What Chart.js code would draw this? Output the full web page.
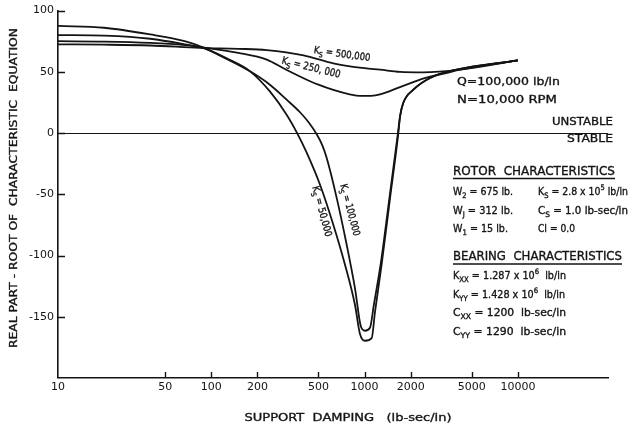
<!DOCTYPE html>
<html>
<head>
<meta charset="utf-8">
<script src="https://cdn.jsdelivr.net/npm/chart.js@4"></script>
<style>
  html, body { margin: 0; padding: 0; background: #fff; }
  canvas { display: block; }
</style>
</head>
<body>
<canvas id="c" width="630" height="429"></canvas>
<script>
// Support damping (lb-sec/in) and real part of the root for each support stiffness Ks
const damping500k = [10, 20, 40, 84, 150, 230, 400, 625, 1000, 1260, 1700, 2400, 4200, 10000];
const real500k    = [72.5, 72.2, 71.5, 69.6, 68.8, 67.8, 63.5, 57, 53, 51.8, 50, 49.6, 51.8, 59.4];

const damping250k = [10, 20, 40, 67, 88, 150, 230, 300, 400, 500, 625, 800, 933, 1100, 1260, 1700, 2400, 3400, 4200, 10000];
const real250k    = [75, 74.7, 73.6, 71.8, 70, 65.5, 60, 52.5, 44.8, 39.5, 35.2, 31.6, 30.3, 30.4, 31.5, 37.5, 44.5, 49, 51.8, 59.4];

const damping100k = [10, 20, 40, 67, 88, 126, 179, 241, 310, 379, 430, 487, 530, 566, 658, 764, 865, 946, 1006, 1084, 1150, 1280, 1455, 1650, 1703, 1786, 2080, 2673, 3980, 10000];
const real100k    = [80, 79.5, 77, 72.5, 69.5, 60.5, 50.4, 39.5, 27.3, 17, 9, -1, -10, -20.4, -53.1, -91.2, -126.6, -158, -161.4, -159, -140, -105, -52, 0, 13.6, 24.5, 35.4, 45, 51.8, 59.4];

const damping50k  = [10, 20, 40, 67, 88, 126, 179, 241, 310, 363, 419, 512, 625, 745, 865, 933, 1006, 1112, 1170, 1291, 1466, 1660, 1703, 1786, 2080, 2673, 3980, 10000];
const real50k     = [87.5, 86, 80.5, 75, 70, 61, 50.4, 34, 15, 0, -16, -42.2, -74.8, -107.5, -140.2, -164, -169.6, -167.5, -145.7, -107.5, -53, 0, 13.6, 24.5, 35.4, 45, 51.8, 59.4];

// Axis ticks
const xTicks = [10, 50, 100, 200, 500, 1000, 2000, 5000, 10000];
const yTicks = [-150, -100, -50, 0, 50, 100];

const INK = '#141414';
const FONT = '"DejaVu Sans", sans-serif';

function pts(xs, ys) { return xs.map((x, i) => ({ x: x, y: ys[i] })); }

function series(label, xs, ys) {
  return {
    label: label,
    data: pts(xs, ys),
    borderColor: INK,
    borderWidth: 1.8,
    pointRadius: 0,
    fill: false,
    cubicInterpolationMode: 'monotone'
  };
}

// Text with optional subscript (_) / superscript (^) segments, stretched to a given width
function drawRich(ctx, segs, x, y, o) {
  const size = o.size || 11;
  const items = segs.map(s => {
    let kind = 0, t = s;
    if (s[0] === '_') { kind = 1; t = s.slice(1); }
    else if (s[0] === '^') { kind = 2; t = s.slice(1); }
    const fs = kind ? size * 0.72 : size;
    ctx.font = fs + 'px ' + FONT;
    return { t: t, kind: kind, fs: fs, w: ctx.measureText(t).width };
  });
  const W = items.reduce((a, b) => a + b.w, 0);
  const sx = o.width ? o.width / W : 1;
  ctx.save();
  ctx.translate(x, y);
  if (o.rot) ctx.rotate(o.rot * Math.PI / 180);
  ctx.scale(sx, 1);
  let cx = o.align === 'right' ? -W : (o.align === 'center' ? -W / 2 : 0);
  ctx.textBaseline = 'middle';
  ctx.textAlign = 'left';
  ctx.fillStyle = INK;
  ctx.strokeStyle = INK;
  ctx.lineWidth = 0.35;
  for (const it of items) {
    ctx.font = it.fs + 'px ' + FONT;
    const dy = it.kind === 1 ? size * 0.38 : (it.kind === 2 ? -size * 0.42 : 0);
    ctx.fillText(it.t, cx, dy);
    ctx.strokeText(it.t, cx, dy);
    cx += it.w;
  }
  ctx.restore();
}

function hline(ctx, x1, x2, y, w) {
  ctx.save();
  ctx.strokeStyle = INK;
  ctx.lineWidth = w || 1.3;
  ctx.beginPath();
  ctx.moveTo(x1, y);
  ctx.lineTo(x2, y);
  ctx.stroke();
  ctx.restore();
}

const decorations = {
  id: 'decorations',
  afterDraw(chart) {
    const ctx = chart.ctx;
    const xs = chart.scales.x, ys = chart.scales.y;
    const area = chart.chartArea;

    // inward tick marks
    ctx.save();
    ctx.strokeStyle = INK;
    ctx.lineWidth = 1.4;
    ctx.beginPath();
    xTicks.forEach(v => {
      if (v === 10) return;
      const px = Math.round(xs.getPixelForValue(v)) + 0.5;
      ctx.moveTo(px, area.bottom);
      ctx.lineTo(px, area.bottom - 6);
    });
    yTicks.forEach(v => {
      const py = Math.round(ys.getPixelForValue(v)) + 0.5;
      ctx.moveTo(area.left, py);
      ctx.lineTo(area.left + 7, py);
    });
    ctx.stroke();
    ctx.restore();

    // axis titles
    drawRich(ctx, ['REAL PART - ROOT OF  CHARACTERISTIC  EQUATION'], 14, 188, { align: 'center', rot: -90, width: 320, size: 11 });
    drawRich(ctx, ['SUPPORT  DAMPING   (lb-sec/in)'], 348, 418, { align: 'center', width: 207, size: 11 });

    // curve labels
    drawRich(ctx, ['K', '_S', ' = 500,000'], 342, 54.5, { align: 'center', rot: 8, width: 57, size: 10 });
    drawRich(ctx, ['K', '_S', ' = 250, 000'], 311, 68, { align: 'center', rot: 14, width: 60, size: 10.5 });
    drawRich(ctx, ['K', '_S', ' = 50,000'], 321.5, 211.5, { align: 'center', rot: 75, width: 52, size: 10 });
    drawRich(ctx, ['K', '_S', ' = 100,000'], 349.5, 210, { align: 'center', rot: 75, width: 53, size: 10 });

    // operating conditions
    drawRich(ctx, ['Q=100,000 lb/in'], 457, 82, { width: 103, size: 11 });
    drawRich(ctx, ['N=10,000 RPM'], 457, 100, { width: 100, size: 11 });
    drawRich(ctx, ['UNSTABLE'], 613, 122, { align: 'right', width: 61, size: 11 });
    drawRich(ctx, ['STABLE'], 613, 139, { align: 'right', width: 46, size: 11 });

    // rotor characteristics
    drawRich(ctx, ['ROTOR  CHARACTERISTICS'], 453, 172, { width: 162, size: 12 });
    hline(ctx, 453, 615, 178.5);
    drawRich(ctx, ['W', '_2', ' = 675 lb.'], 453, 192, { width: 60, size: 10.5 });
    drawRich(ctx, ['K', '_S', ' = 2.8 x 10', '^5', ' lb/in'], 538, 192, { width: 90, size: 10.5 });
    drawRich(ctx, ['W', '_J', ' = 312 lb.'], 453, 211, { width: 60, size: 10.5 });
    drawRich(ctx, ['C', '_S', ' = 1.0 lb-sec/in'], 538, 211, { width: 90, size: 10.5 });
    drawRich(ctx, ['W', '_1', ' = 15 lb.'], 453, 229, { width: 55, size: 10.5 });
    drawRich(ctx, ['CI = 0.0'], 538, 229, { width: 37, size: 10.5 });

    // bearing characteristics
    drawRich(ctx, ['BEARING  CHARACTERISTICS'], 453, 257, { width: 169, size: 12 });
    hline(ctx, 453, 622, 264);
    drawRich(ctx, ['K', '_XX', ' = 1.287 x 10', '^6', '  lb/in'], 453, 276, { width: 113, size: 10.5 });
    drawRich(ctx, ['K', '_YY', ' = 1.428 x 10', '^6', '  lb/in'], 453, 295, { width: 112, size: 10.5 });
    drawRich(ctx, ['C', '_XX', ' = 1200  lb-sec/in'], 453, 313, { width: 113, size: 10.5 });
    drawRich(ctx, ['C', '_YY', ' = 1290  lb-sec/in'], 453, 332, { width: 113, size: 10.5 });
  }
};

new Chart(document.getElementById('c'), {
  type: 'line',
  data: {
    datasets: [
      series('Ks = 500,000', damping500k, real500k),
      series('Ks = 250,000', damping250k, real250k),
      series('Ks = 100,000', damping100k, real100k),
      series('Ks = 50,000', damping50k, real50k)
    ]
  },
  options: {
    responsive: false,
    animation: false,
    devicePixelRatio: 1,
    layout: { padding: { left: 0, right: 22, top: 10, bottom: 0 } },
    plugins: { legend: { display: false }, tooltip: { enabled: false } },
    scales: {
      x: {
        type: 'logarithmic',
        position: 'bottom',
        min: 10,
        max: 38700,
        afterBuildTicks: axis => { axis.ticks = xTicks.map(v => ({ value: v })); },
        afterFit: axis => { axis.height = 51; },
        ticks: {
          autoSkip: false,
          maxRotation: 0,
          padding: 3,
          color: INK,
          font: { family: 'DejaVu Sans', size: 11 },
          callback: v => String(v)
        },
        grid: { drawOnChartArea: false, drawTicks: false },
        border: { display: true, color: INK, width: 1.6 }
      },
      y: {
        type: 'linear',
        min: -200,
        max: 100,
        afterBuildTicks: axis => { axis.ticks = yTicks.map(v => ({ value: v })); },
        afterFit: axis => { axis.width = 58; },
        ticks: {
          autoSkip: false,
          padding: 4,
          color: INK,
          font: { family: 'DejaVu Sans', size: 11 },
          callback: v => String(v)
        },
        grid: {
          drawOnChartArea: true,
          drawTicks: false,
          color: c => (c.tick && c.tick.value === 0 ? INK : 'rgba(0,0,0,0)'),
          lineWidth: 1.1
        },
        border: { display: true, color: INK, width: 1.6 }
      }
    }
  },
  plugins: [decorations]
});
</script>
</body>
</html>
